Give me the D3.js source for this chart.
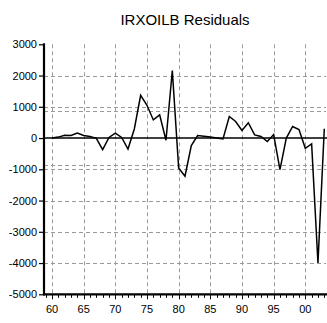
<!DOCTYPE html>
<html lang="en">
<head>
  <meta charset="UTF-8">
  <title>IRXOILB Residuals</title>
  <script src="https://d3js.org/d3.v7.min.js"></script>
  <style>
    body { margin: 0; background: #fff; }
    text { font-family: "Liberation Sans", Arial, sans-serif; fill: #000; }
    .grid line { stroke: #9a9a9a; stroke-dasharray: 4,3; stroke-width: 1; }
    .grid .domain { stroke: none; }
  </style>
</head>
<body>
  <svg id="chart" width="327" height="323"></svg>

  <script>
    // years 1960..2003
    const years = d3.range(1960, 2004);
    const residuals = [
      0, 30, 90, 80, 160, 80, 50, -10, -370, 20,
      160, 20, -350, 290, 1370, 1050, 580, 740, -70, 2160,
      -960, -1220, -240, 80, 60, 30, 0, -30, 690, 530,
      240, 490, 100, 50, -110, 110, -1010, 0, 370, 270,
      -330, -190, -4000, 300
    ];
    const yTicks = [3000, 2000, 1000, 0, -1000, -2000, -3000, -4000, -5000];
    const yGrid = [2000, 1000, -1000, -2000, -3000, -4000];
    const bandLevels = [850, -850];
    const xLabelYears = [1960, 1965, 1970, 1975, 1980, 1985, 1990, 1995, 2000];

    const svg = d3.select("#chart");
    const plotLeft = 44, plotRight = 327, plotTop = 44.3, plotBottom = 294.3;

    const xScale = d3.scaleLinear().domain([1960, 2000]).range([52, 305.3]);
    const yScale = d3.scaleLinear().domain([3000, -5000]).range([plotTop, plotBottom]);

    // title
    svg.append("text")
      .attr("x", 185).attr("y", 25)
      .attr("text-anchor", "middle")
      .attr("font-size", "15px")
      .text("IRXOILB Residuals");

    // horizontal grid lines + the +/- bands
    const grid = svg.append("g").attr("class", "grid");
    grid.selectAll("line.h").data(yGrid.concat(bandLevels))
      .join("line").attr("class", "h")
      .attr("x1", plotLeft).attr("x2", plotRight - 1)
      .attr("y1", d => Math.round(yScale(d)) + 0.5)
      .attr("y2", d => Math.round(yScale(d)) + 0.5);

    // vertical grid lines
    grid.selectAll("line.v").data(xLabelYears)
      .join("line").attr("class", "v")
      .attr("x1", d => Math.round(xScale(d)) + 0.5)
      .attr("x2", d => Math.round(xScale(d)) + 0.5)
      .attr("y1", plotTop).attr("y2", plotBottom);

    // zero line
    svg.append("line")
      .attr("x1", plotLeft).attr("x2", plotRight)
      .attr("y1", yScale(0)).attr("y2", yScale(0))
      .attr("stroke", "#000").attr("stroke-width", 1.6);

    // residual line
    const line = d3.line()
      .x((d, i) => xScale(years[i]))
      .y(d => yScale(d));
    svg.append("path")
      .datum(residuals)
      .attr("fill", "none")
      .attr("stroke", "#000")
      .attr("stroke-width", 1.5)
      .attr("d", line);

    // y axis (plain hyphen for negatives, like the original)
    const yAxis = d3.axisLeft(yScale)
      .tickValues(yTicks)
      .tickSize(5)
      .tickSizeOuter(0)
      .tickPadding(2)
      .tickFormat(d => String(d));
    const yG = svg.append("g")
      .attr("transform", `translate(${plotLeft},0)`)
      .call(yAxis);
    yG.select(".domain").remove();
    yG.selectAll(".tick line").attr("stroke", "#000").attr("stroke-width", 1.2);
    yG.selectAll(".tick text").attr("font-size", "11px")
      .attr("font-family", "'Liberation Sans', Arial, sans-serif");
    svg.append("line")
      .attr("x1", plotLeft).attr("x2", plotLeft)
      .attr("y1", plotTop - 1).attr("y2", plotBottom + 1)
      .attr("stroke", "#000").attr("stroke-width", 2.2);

    // x axis: yearly minor ticks, labelled every 5 years
    const xG = svg.append("g").attr("transform", `translate(0,${plotBottom})`);
    xG.selectAll("line.tk").data(d3.range(1959, 2004))
      .join("line").attr("class", "tk")
      .attr("x1", d => Math.round(xScale(d)) + 0.5)
      .attr("x2", d => Math.round(xScale(d)) + 0.5)
      .attr("y1", 0)
      .attr("y2", d => d % 5 === 0 ? 5 : 3.5)
      .attr("stroke", "#000").attr("stroke-width", 1);
    xG.selectAll("text").data(xLabelYears)
      .join("text")
      .attr("x", d => xScale(d))
      .attr("y", 18.5)
      .attr("text-anchor", "middle")
      .attr("font-size", "11px")
      .text(d => String(d % 100).padStart(2, "0"));
    svg.append("line")
      .attr("x1", plotLeft - 1).attr("x2", plotRight)
      .attr("y1", plotBottom).attr("y2", plotBottom)
      .attr("stroke", "#000").attr("stroke-width", 2.2);
  </script>
</body>
</html>
